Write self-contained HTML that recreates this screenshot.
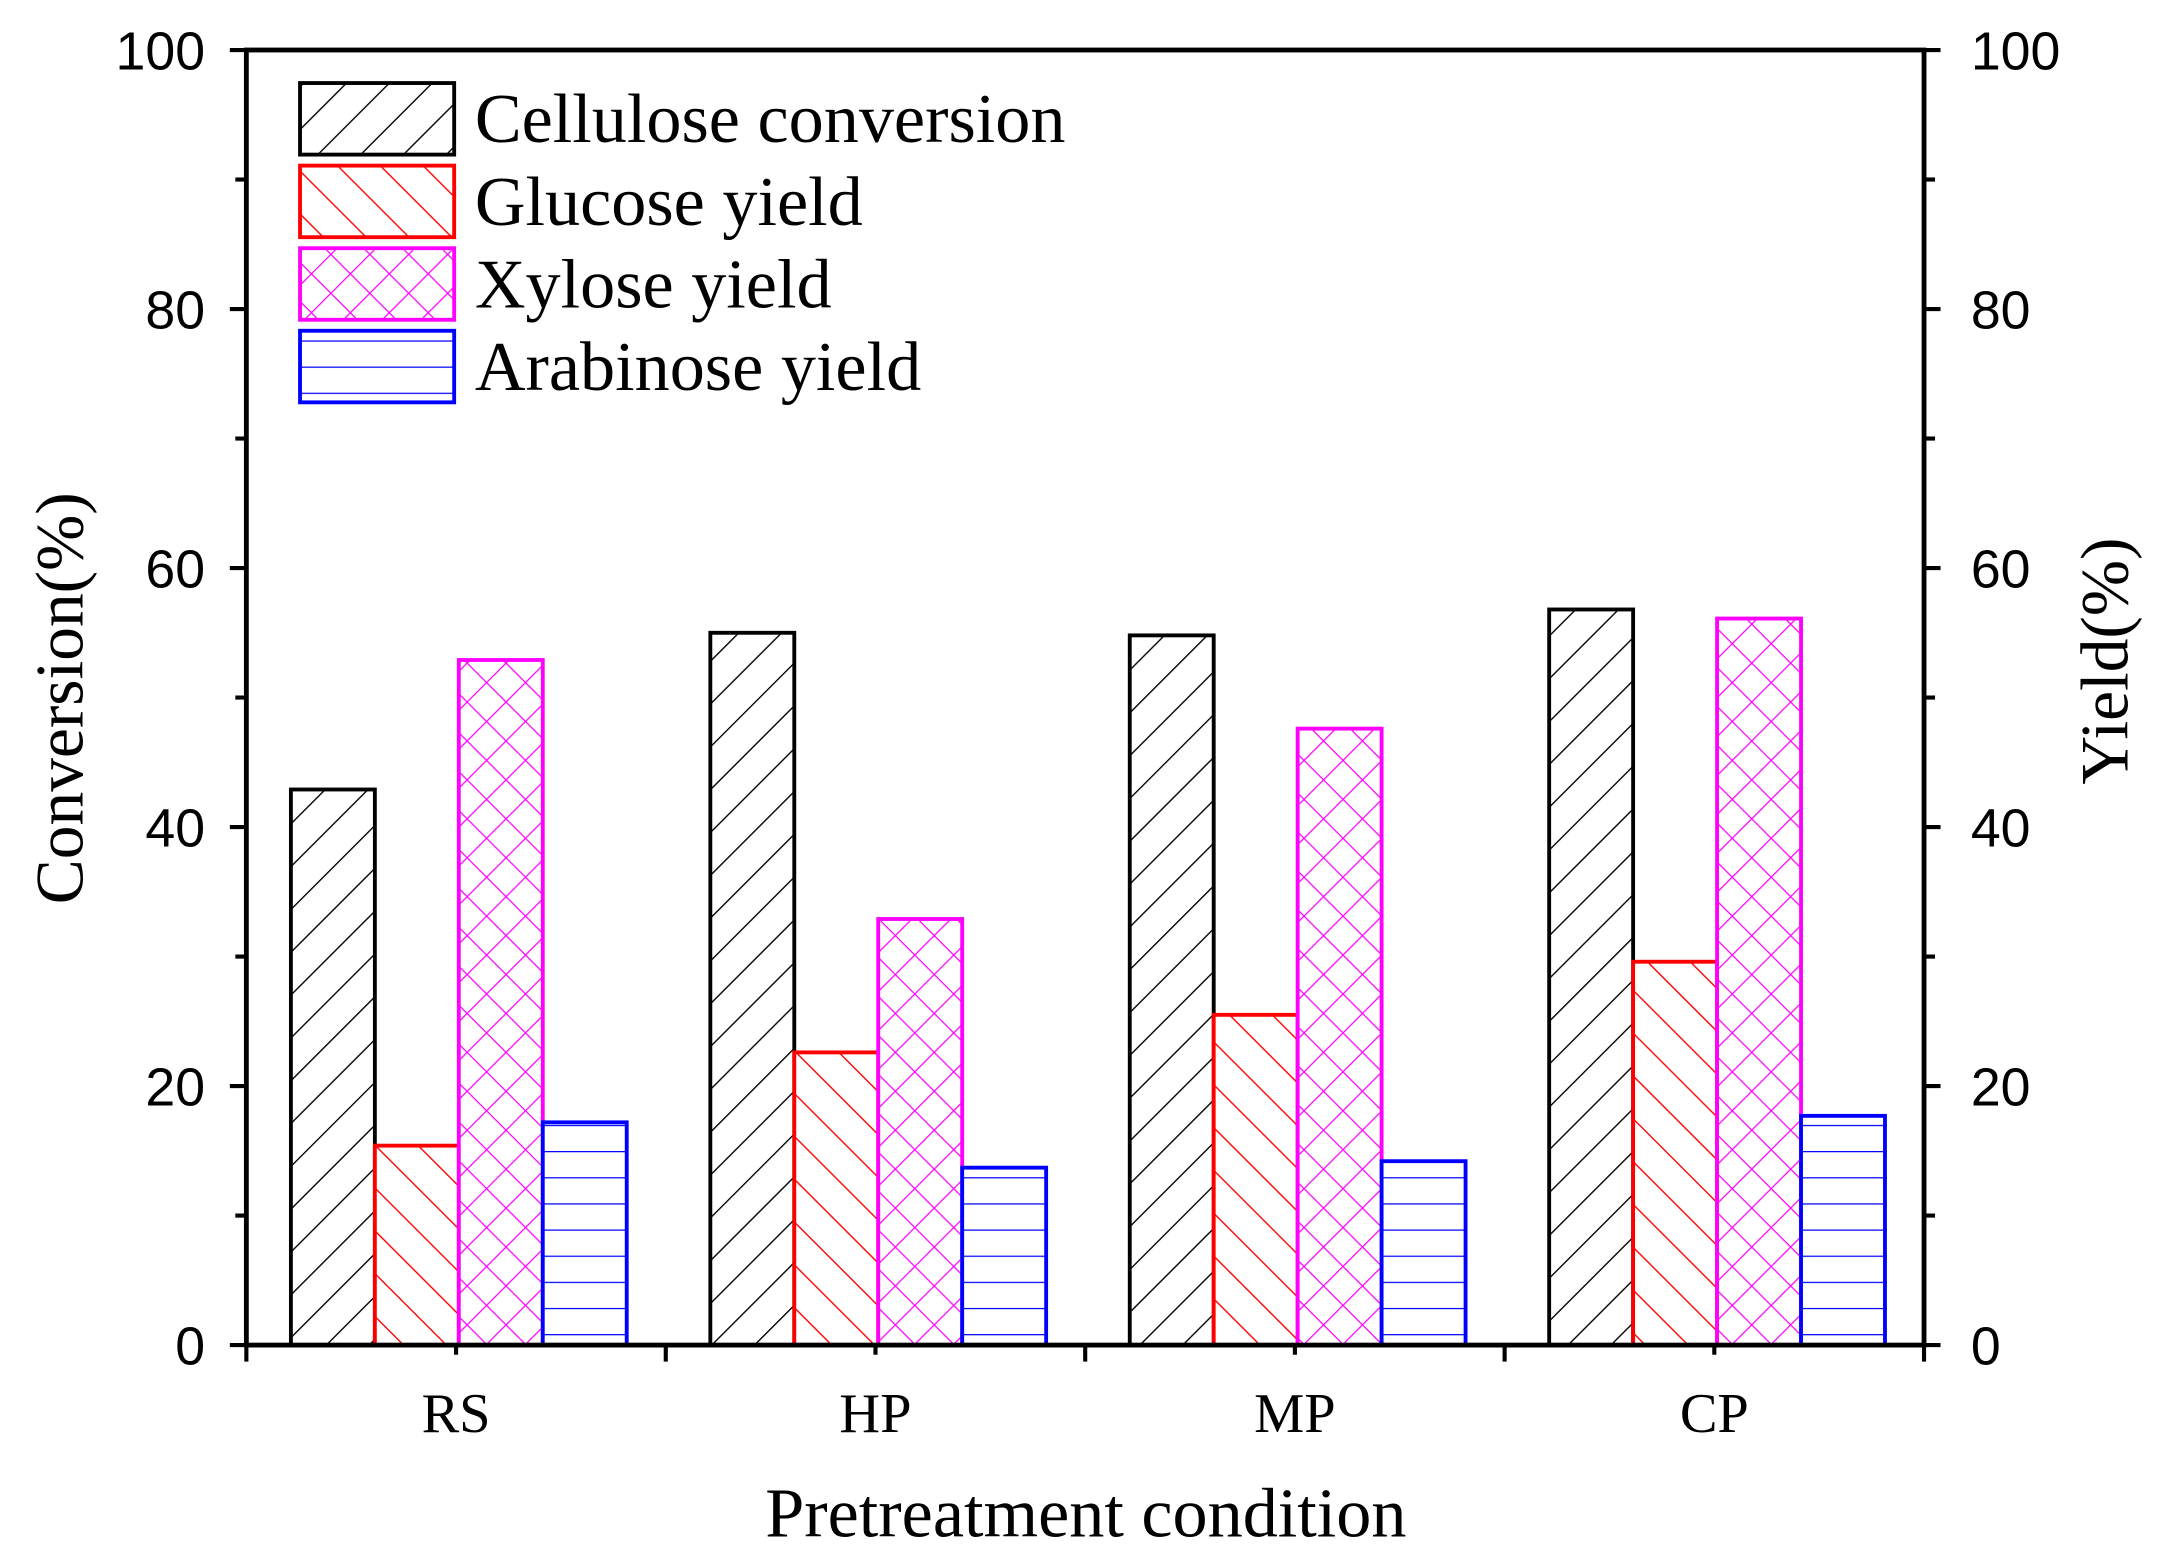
<!DOCTYPE html>
<html><head><meta charset="utf-8"><style>
html,body{margin:0;padding:0;background:#fff;}
svg{display:block;}
text{font-family:"Liberation Serif",serif;fill:#000;}
text.sans{font-family:"Liberation Sans",sans-serif;}
</style></head><body>
<svg id="chart" width="2158" height="1563" viewBox="0 0 1568 1135" xmlns="http://www.w3.org/2000/svg">
<defs>
<pattern id="pCell" patternUnits="userSpaceOnUse" width="22" height="22" patternTransform="rotate(45)"><rect width="22" height="22" fill="#fff"/><line x1="0" y1="0" x2="0" y2="22" stroke="#000" stroke-width="2"/></pattern>
<pattern id="pGlu" patternUnits="userSpaceOnUse" width="22" height="22" patternTransform="rotate(-45)"><rect width="22" height="22" fill="#fff"/><line x1="0" y1="0" x2="0" y2="22" stroke="#f00" stroke-width="2"/></pattern>
<pattern id="pXyl" patternUnits="userSpaceOnUse" width="20" height="20" patternTransform="rotate(45)"><rect width="20" height="20" fill="#fff"/><line x1="0" y1="0" x2="0" y2="20" stroke="#f0f" stroke-width="1.8"/><line x1="0" y1="0" x2="20" y2="0" stroke="#f0f" stroke-width="1.8"/></pattern>
<pattern id="pAra" patternUnits="userSpaceOnUse" width="20" height="19"><rect width="20" height="19" fill="#fff"/><line x1="0" y1="0" x2="20" y2="0" stroke="#00f" stroke-width="1.8"/></pattern>
</defs>
<g id="bars"></g>
<g id="axes"></g>
<g id="legend"></g>
<text transform="translate(60,507) rotate(-90)" text-anchor="middle" font-size="49">Conversion(%)</text>
<text transform="translate(1546,480) rotate(-90)" text-anchor="middle" font-size="49">Yield(%)</text>
<text x="789" y="1116" text-anchor="middle" font-size="51">Pretreatment condition</text>
</svg>
<script>
const categories = ["RS","HP","MP","CP"];
const seriesNames = ["Cellulose conversion","Glucose yield","Xylose yield","Arabinose yield"];
const cellulose = [42.9, 55.0, 54.8, 56.8];
const glucose = [15.4, 22.6, 25.5, 29.6];
const xylose = [52.9, 32.9, 47.6, 56.1];
const arabinose = [17.2, 13.7, 14.2, 17.7];
const yTicks = [0,20,40,60,80,100];

const NS="http://www.w3.org/2000/svg";
const L=179,R=1398,T=36,B=977;
const y=v=>B-(v/100)*(B-T);
const groupW=(R-L)/categories.length;
const cx=i=>L+groupW*(i+0.5);
const bw=61;
function mk(tag,attrs,parent){const e=document.createElementNS(NS,tag);for(const k in attrs)e.setAttribute(k,attrs[k]);parent.appendChild(e);return e;}
const bars=document.getElementById('bars');
const series=[cellulose,glucose,xylose,arabinose];
const fills=["url(#pCell)","url(#pGlu)","url(#pXyl)","url(#pAra)"];
const strokes=["#000","#f00","#f0f","#00f"];
const keys=["cellulose","glucose","xylose","arabinose"];
series.forEach((s,si)=>{s.forEach((v,i)=>{
 const x=cx(i)-2*bw+2+si*bw;
 const r=mk('rect',{x:x,y:y(v),width:bw,height:B-y(v),fill:fills[si],stroke:strokes[si],'stroke-width':2.8},bars);
 
 
});});
const ax=document.getElementById('axes');
const fr=mk('rect',{x:L,y:T,width:R-L,height:B-T,fill:'none',stroke:'#000','stroke-width':3.5},ax);


for(let v=0;v<=100;v+=10){
 const major=v%20===0;const len=major?12:8;
 mk('line',{x1:L-len,x2:L,y1:y(v),y2:y(v),stroke:'#000','stroke-width':3},ax);
 mk('line',{x1:R,x2:R+len,y1:y(v),y2:y(v),stroke:'#000','stroke-width':3},ax);
}
yTicks.forEach(v=>{
 const t=mk('text',{class:'sans',x:L-30,y:y(v)+14,'text-anchor':'end','font-size':39},ax);
 t.textContent=v;
 
 
 const t2=mk('text',{class:'sans',x:R+34,y:y(v)+14,'text-anchor':'start','font-size':39},ax);
 t2.textContent=v;
 
 
});
for(let i=0;i<=categories.length;i++){
 const x=L+groupW*i;
 mk('line',{x1:x,x2:x,y1:B,y2:B+12,stroke:'#000','stroke-width':3},ax);
}
categories.forEach((c,i)=>{
 mk('line',{x1:cx(i),x2:cx(i),y1:B,y2:B+7,stroke:'#000','stroke-width':3},ax);
 const t=mk('text',{x:cx(i),y:1040,'text-anchor':'middle','font-size':41},ax);
 t.textContent=c;
 
 
});
const lg=document.getElementById('legend');
seriesNames.forEach((n,i)=>{
 const g=mk('g',{},lg);
 
 
 mk('rect',{x:218,y:60+i*60,width:112,height:52,fill:fills[i],stroke:strokes[i],'stroke-width':2.8},g);
 const t=mk('text',{x:345,y:103+i*60,'font-size':51},g);
 t.textContent=n;
});
</script>
</body></html>
